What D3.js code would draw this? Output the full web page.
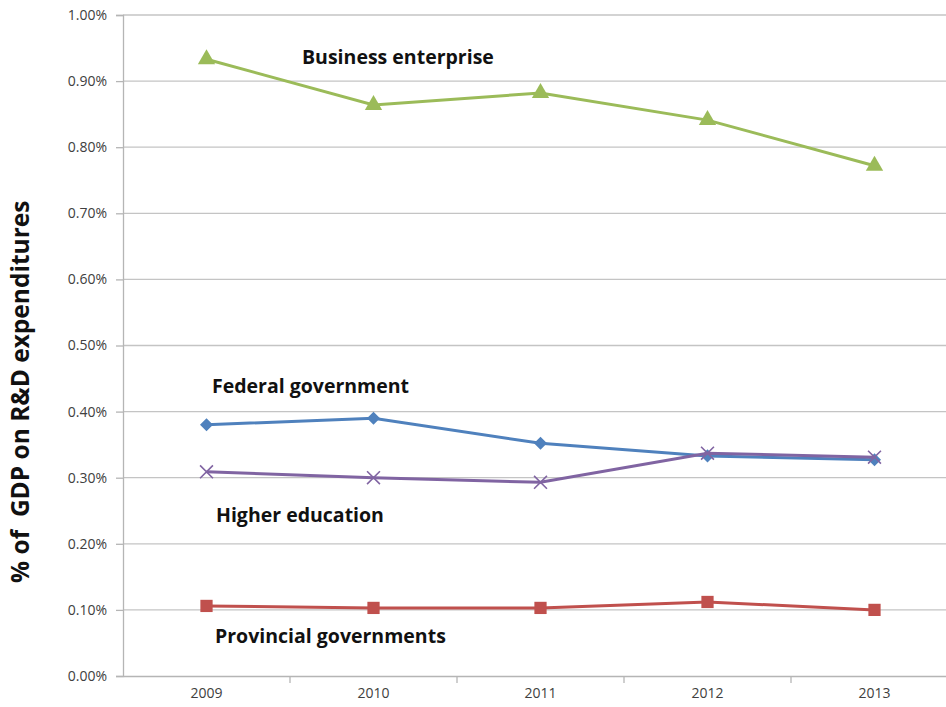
<!DOCTYPE html>
<html>
<head>
<meta charset="utf-8">
<script src="https://cdn.jsdelivr.net/npm/d3@7"></script>
<style>
  body { margin: 0; background: #fff; }
  text { font-family: "Open Sans", Lato, sans-serif; }
</style>
</head>
<body>
<script>
// years on x axis
var years = ["2009", "2010", "2011", "2012", "2013"];
// % of GDP by sector
var business = [0.933, 0.864, 0.882, 0.841, 0.772];
var federal = [0.380, 0.390, 0.352, 0.333, 0.327];
var higherEd = [0.309, 0.300, 0.293, 0.337, 0.331];
var provincial = [0.106, 0.103, 0.103, 0.112, 0.100];
var yTicks = [0, 0.1, 0.2, 0.3, 0.4, 0.5, 0.6, 0.7, 0.8, 0.9, 1.0];

var w = 946;
var h = 707;
var margins = {left: 123, right: -12, upper: 15, lower: 31};

var svg = d3.select("body")
            .append("svg")
            .attr("width", w)
            .attr("height", h);

var xScale = d3.scaleBand()
               .domain(years)
               .range([margins.left, w - margins.right]);
var yScale = d3.scaleLinear()
               .domain([0, 1])
               .range([h - margins.lower, margins.upper]);

// horizontal gridlines
svg.selectAll(".grid")
   .data(yTicks.slice(1))
   .enter()
   .append("line")
   .attr("x1", margins.left)
   .attr("x2", w)
   .attr("y1", function(d) { return yScale(d); })
   .attr("y2", function(d) { return yScale(d); })
   .attr("stroke", "#c4c4c4")
   .attr("stroke-width", 1.3);

// y axis
var yAxis = svg.append("g")
   .attr("transform", "translate(" + margins.left + ",0)")
   .call(d3.axisLeft(yScale).tickValues(yTicks).tickSize(7).tickPadding(9)
           .tickFormat(function(d) { return d3.format(".2f")(d) + "%"; }));
yAxis.select(".domain").attr("stroke", "#b5b5b5").attr("stroke-width", 1.3);
yAxis.selectAll(".tick line").attr("stroke", "#b5b5b5").attr("stroke-width", 1.3);
yAxis.selectAll("text").attr("font-size", 14).attr("fill", "#404040")
     .style("font-family", "'Open Sans', sans-serif");

// x axis
var xAxis = svg.append("g")
   .attr("transform", "translate(0," + yScale(0) + ")")
   .call(d3.axisBottom(xScale).tickSize(0).tickPadding(12));
xAxis.select(".domain").attr("stroke", "#b5b5b5").attr("stroke-width", 1.3);
xAxis.selectAll("text").attr("font-size", 14).attr("fill", "#404040")
     .style("font-family", "'Open Sans', sans-serif");
// ticks between categories
svg.selectAll(".xtick")
   .data(years.slice(1))
   .enter()
   .append("line")
   .attr("x1", function(d) { return xScale(d); })
   .attr("x2", function(d) { return xScale(d); })
   .attr("y1", yScale(0))
   .attr("y2", yScale(0) + 7)
   .attr("stroke", "#b5b5b5")
   .attr("stroke-width", 1.3);

// y axis title
svg.append("text")
   .attr("transform", "translate(29," + (yScale(0.43)) + ") rotate(-90)")
   .attr("text-anchor", "middle")
   .attr("font-size", 24.5)
   .attr("font-weight", "bold")
   .attr("fill", "#111")
   .style("white-space", "pre")
   .text("% of  GDP on R&D expenditures");

function cx(i) { return xScale(years[i]) + xScale.bandwidth() / 2; }

var line = d3.line()
             .x(function(d, i) { return cx(i); })
             .y(function(d) { return yScale(d); });

// rot = extra rotation of the marker (square turned into a diamond)
var series = [
  {name: "Business enterprise", values: business, color: "#9bbb59", sym: d3.symbolTriangle, size: 130, rot: 0},
  {name: "Federal government", values: federal, color: "#4f81bd", sym: d3.symbolSquare, size: 85, rot: 45},
  {name: "Provincial governments", values: provincial, color: "#c0504d", sym: d3.symbolSquare, size: 150, rot: 0},
  {name: "Higher education", values: higherEd, color: "#8064a2", sym: d3.symbolX, size: 110, rot: 0}
];

series.forEach(function(s) {
  svg.append("path")
     .datum(s.values)
     .attr("d", line)
     .attr("fill", "none")
     .attr("stroke", s.color)
     .attr("stroke-width", 3);

  svg.selectAll(null)
     .data(s.values)
     .enter()
     .append("path")
     .attr("transform", function(d, i) {
        return "translate(" + cx(i) + "," + yScale(d) + ") rotate(" + s.rot + ")";
     })
     .attr("d", d3.symbol().type(s.sym).size(s.size))
     .attr("fill", s.sym === d3.symbolX ? "none" : s.color)
     .attr("stroke", s.color)
     .attr("stroke-width", s.sym === d3.symbolX ? 1.6 : 0);
});

// series labels
var labels = [
  {text: "Business enterprise", x: 302, y: 64},
  {text: "Federal government", x: 212, y: 393},
  {text: "Higher education", x: 216, y: 522},
  {text: "Provincial governments", x: 215, y: 643}
];
svg.selectAll(".lbl")
   .data(labels)
   .enter()
   .append("text")
   .attr("x", function(d) { return d.x; })
   .attr("y", function(d) { return d.y; })
   .attr("font-size", 19.5)
   .attr("font-weight", "bold")
   .attr("fill", "#111")
   .text(function(d) { return d.text; });
</script>
</body>
</html>
